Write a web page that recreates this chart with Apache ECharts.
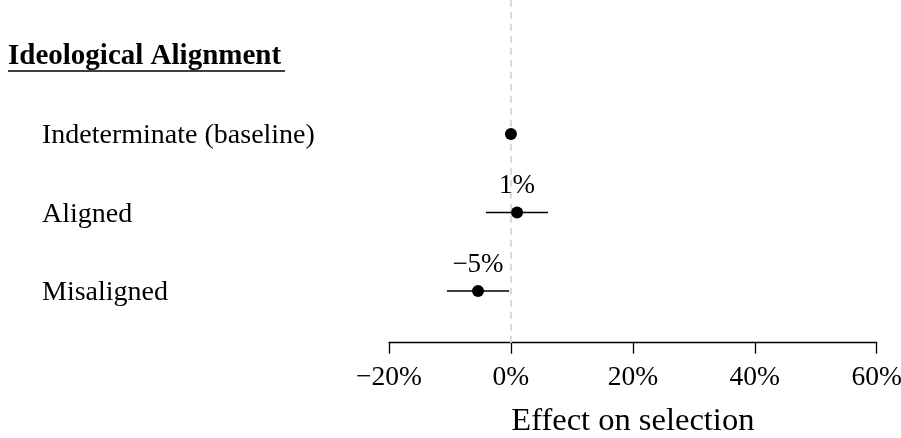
<!DOCTYPE html>
<html><head><meta charset="utf-8">
<script src="https://cdn.jsdelivr.net/npm/echarts@6/dist/echarts.min.js"></script>
<style>html,body{margin:0;padding:0;background:#fff}#c{width:901px;height:438px}</style>
</head><body><div id="c"></div>
<script>
const groupTitle = 'Ideological Alignment';
const categories = ['Indeterminate (baseline)', 'Aligned', 'Misaligned'];
const estimates = [0, 1.0, -5.4];
const ciLow = [null, -4.1, -10.5];
const ciHigh = [null, 6.1, -0.3];
const pointLabels = ['', '1%', '\u22125%'];
const xTicks = [-20, 0, 20, 40, 60];
const xTitle = 'Effect on selection';

const FONT = '"Liberation Serif", "Times New Roman", serif';
const n = categories.length;
const rowY = i => n - i;

const pointData = categories.map((c, i) => ({
  value: [estimates[i], rowY(i)],
  label: { show: pointLabels[i] !== '', formatter: pointLabels[i] }
}));
const ciData = [];
categories.forEach((c, i) => {
  if (ciLow[i] !== null) ciData.push([ciLow[i], ciHigh[i], rowY(i)]);
});

const chart = echarts.init(document.getElementById('c'), null, { renderer: 'canvas' });
chart.setOption({
  animation: false,
  backgroundColor: '#fff',
  grid: { left: 389, right: 24.3, top: 0, bottom: 95.3, containLabel: false, outerBoundsMode: 'none' },
  xAxis: {
    type: 'value', min: xTicks[0], max: xTicks[xTicks.length - 1], interval: 20,
    axisLine: { show: true, onZero: false, lineStyle: { color: '#000', width: 1.3 } },
    axisTick: { show: true, length: 11, lineStyle: { color: '#000', width: 1.3 } },
    splitLine: { show: false },
    axisLabel: {
      color: '#000', fontFamily: FONT, fontSize: 27.5, margin: 21,
      formatter: v => (v < 0 ? '\u2212' + Math.abs(v) : v) + '%'
    },
    name: xTitle, nameLocation: 'middle', nameGap: 62,
    nameTextStyle: { color: '#000', fontFamily: FONT, fontSize: 32.5 }
  },
  yAxis: {
    type: 'value', min: 0.3414, max: 4.707,
    axisLine: { show: false }, axisTick: { show: false }, splitLine: { show: false },
    axisLabel: {
      show: true, customValues: [1, 2, 3, 4], align: 'left', margin: 381,
      color: '#000', fontFamily: FONT, fontSize: 28,
      formatter: v => v === n + 1 ? '{b|' + groupTitle + '}' : '{c|' + categories[n - v] + '}',
      rich: {
        b: { fontFamily: FONT, fontSize: 29, fontWeight: 'bold', color: '#000', padding: [3, 0, 0, 0] },
        c: { fontFamily: FONT, fontSize: 28, color: '#000', padding: [4, 0, 0, 34] }
      }
    }
  },
  graphic: [{
    type: 'line', shape: { x1: 8, y1: 71, x2: 285, y2: 71 },
    style: { stroke: '#000', lineWidth: 1.5 }
  }],
  series: [
    {
      type: 'custom', z: 2,
      renderItem: (params, api) => {
        const p1 = api.coord([api.value(0), api.value(2)]);
        const p2 = api.coord([api.value(1), api.value(2)]);
        return { type: 'line', shape: { x1: p1[0], y1: p1[1], x2: p2[0], y2: p2[1] },
                 style: { stroke: '#000', lineWidth: 1.3 } };
      },
      encode: { x: [0, 1], y: 2 },
      data: ciData,
      markLine: {
        silent: true, symbol: 'none', z: 1, label: { show: false },
        lineStyle: { type: [7, 5], color: '#dadada', width: 2 },
        data: [{ xAxis: 0 }]
      }
    },
    {
      type: 'scatter', z: 3, symbol: 'circle', symbolSize: 12,
      itemStyle: { color: '#000', opacity: 1 },
      label: { position: 'top', distance: 7, color: '#000', fontFamily: FONT, fontSize: 27 },
      data: pointData
    }
  ]
});
</script></body></html>
